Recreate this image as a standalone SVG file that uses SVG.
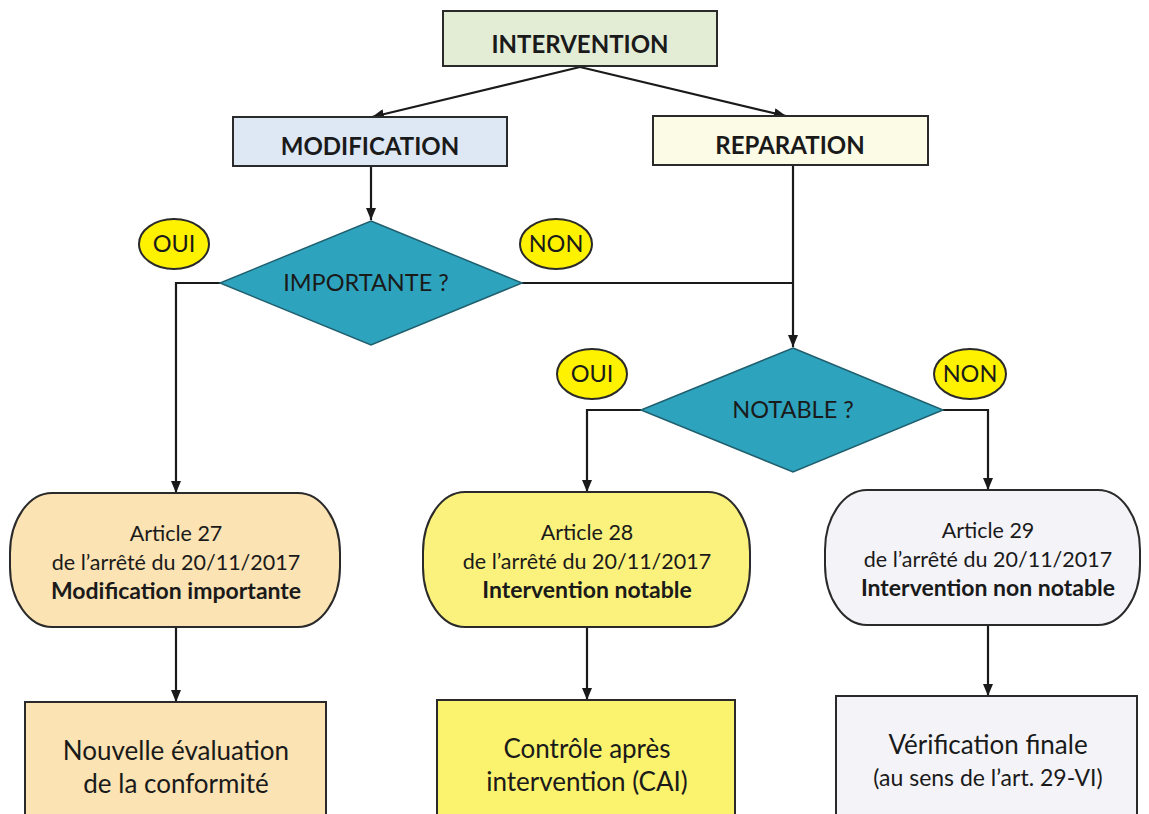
<svg xmlns="http://www.w3.org/2000/svg" width="1149" height="814" viewBox="0 0 1149 814">
<style>
.box{stroke:#2a2a2a;stroke-width:2}
.t{font-family:Lato,"Open Sans",sans-serif;fill:#1a1a1a;text-anchor:middle}
.h{font-weight:bold;font-size:24px}
.m{font-size:21.5px}
.mb{font-size:23px;font-weight:bold}
.l{font-size:26px}
.s{font-size:23px}
.lab{font-size:23.5px}
.ell{fill:#fff200;stroke:#2a2a2a;stroke-width:2}
.dia{fill:#2ea3bd;stroke:#1f5f6e;stroke-width:1.5}
.c{fill:none;stroke:#1a1a1a;stroke-width:2.2}
</style>
<defs>
<marker id="ah" viewBox="0 0 12 10" refX="12" refY="5" markerWidth="12" markerHeight="10" markerUnits="userSpaceOnUse" orient="auto">
<path d="M0,0 L12,5 L0,10 Z" fill="#1a1a1a"/>
</marker>
</defs>
<rect width="1149" height="814" fill="#ffffff"/>
<g id="connectors">
<path class="c" d="M580,67 L372,117" marker-end="url(#ah)"/>
<path class="c" d="M580,67 L786,116" marker-end="url(#ah)"/>
<path class="c" d="M371,166 L371,220" marker-end="url(#ah)"/>
<path class="c" d="M220,283 L176,283 L176,493" marker-end="url(#ah)"/>
<path class="c" d="M522,283 L793,283"/>
<path class="c" d="M793,165 L793,347" marker-end="url(#ah)"/>
<path class="c" d="M641,410 L587,410 L587,492" marker-end="url(#ah)"/>
<path class="c" d="M943,410 L988,410 L988,490" marker-end="url(#ah)"/>
<path class="c" d="M176,627 L176,702" marker-end="url(#ah)"/>
<path class="c" d="M587,627 L587,700" marker-end="url(#ah)"/>
<path class="c" d="M988,625 L988,696" marker-end="url(#ah)"/>
</g>
<g id="intervention">
<rect class="box" x="443" y="11" width="274" height="55" fill="#e3edd6"/>
<text class="t h" x="580" y="53">INTERVENTION</text>
</g>
<g id="modification">
<rect class="box" x="233" y="117" width="274" height="49" fill="#dde8f4"/>
<text class="t h" x="370" y="155">MODIFICATION</text>
</g>
<g id="reparation">
<rect class="box" x="653" y="116" width="275" height="49" fill="#fbfbe6"/>
<text class="t h" x="790" y="154">REPARATION</text>
</g>
<g id="importante">
<path class="dia" d="M371,221 L522,283 L371,345 L220,283 Z"/>
<text class="t lab" x="366" y="291">IMPORTANTE ?</text>
</g>
<g id="oui1">
<ellipse class="ell" cx="174" cy="244" rx="35" ry="25"/>
<text class="t lab" x="174" y="252">OUI</text>
</g>
<g id="non1">
<ellipse class="ell" cx="556" cy="244" rx="36" ry="25"/>
<text class="t lab" x="556" y="252">NON</text>
</g>
<g id="notable">
<path class="dia" d="M793,348 L943,410 L793,472 L641,410 Z"/>
<text class="t lab" x="793" y="418">NOTABLE ?</text>
</g>
<g id="oui2">
<ellipse class="ell" cx="592" cy="374" rx="35" ry="25"/>
<text class="t lab" x="592" y="382">OUI</text>
</g>
<g id="non2">
<ellipse class="ell" cx="970" cy="374" rx="36" ry="25"/>
<text class="t lab" x="970" y="382">NON</text>
</g>
<g id="art27">
<rect class="box" x="10" y="493" width="330" height="134" rx="42" ry="60" fill="#fbe3b3"/>
<text class="t m" x="176" y="541">Article 27</text>
<text class="t m" x="176" y="570">de l’arrêté du 20/11/2017</text>
<text class="t mb" x="176" y="599">Modification importante</text>
</g>
<g id="art28">
<rect class="box" x="423" y="492" width="327" height="135" rx="42" ry="60" fill="#fbf27e"/>
<text class="t m" x="587" y="540">Article 28</text>
<text class="t m" x="587" y="569">de l’arrêté du 20/11/2017</text>
<text class="t mb" x="587" y="598">Intervention notable</text>
</g>
<g id="art29">
<rect class="box" x="825" y="490" width="315" height="135" rx="42" ry="60" fill="#f3f3f8"/>
<text class="t m" x="988" y="538">Article 29</text>
<text class="t m" x="988" y="567">de l’arrêté du 20/11/2017</text>
<text class="t mb" x="988" y="596">Intervention non notable</text>
</g>
<g id="evaluation">
<rect class="box" x="25" y="702" width="301" height="120" fill="#fbe3b3"/>
<text class="t l" x="176" y="760">Nouvelle évaluation</text>
<text class="t l" x="176" y="793">de la conformité</text>
</g>
<g id="cai">
<rect class="box" x="437" y="700" width="298" height="122" fill="#fbf26e"/>
<text class="t l" x="587" y="758">Contrôle après</text>
<text class="t l" x="587" y="791">intervention (CAI)</text>
</g>
<g id="verification">
<rect class="box" x="836" y="696" width="301" height="126" fill="#f4f4f8"/>
<text class="t l" x="988" y="754">Vérification finale</text>
<text class="t s" x="988" y="786">(au sens de l’art. 29-VI)</text>
</g>
</svg>
